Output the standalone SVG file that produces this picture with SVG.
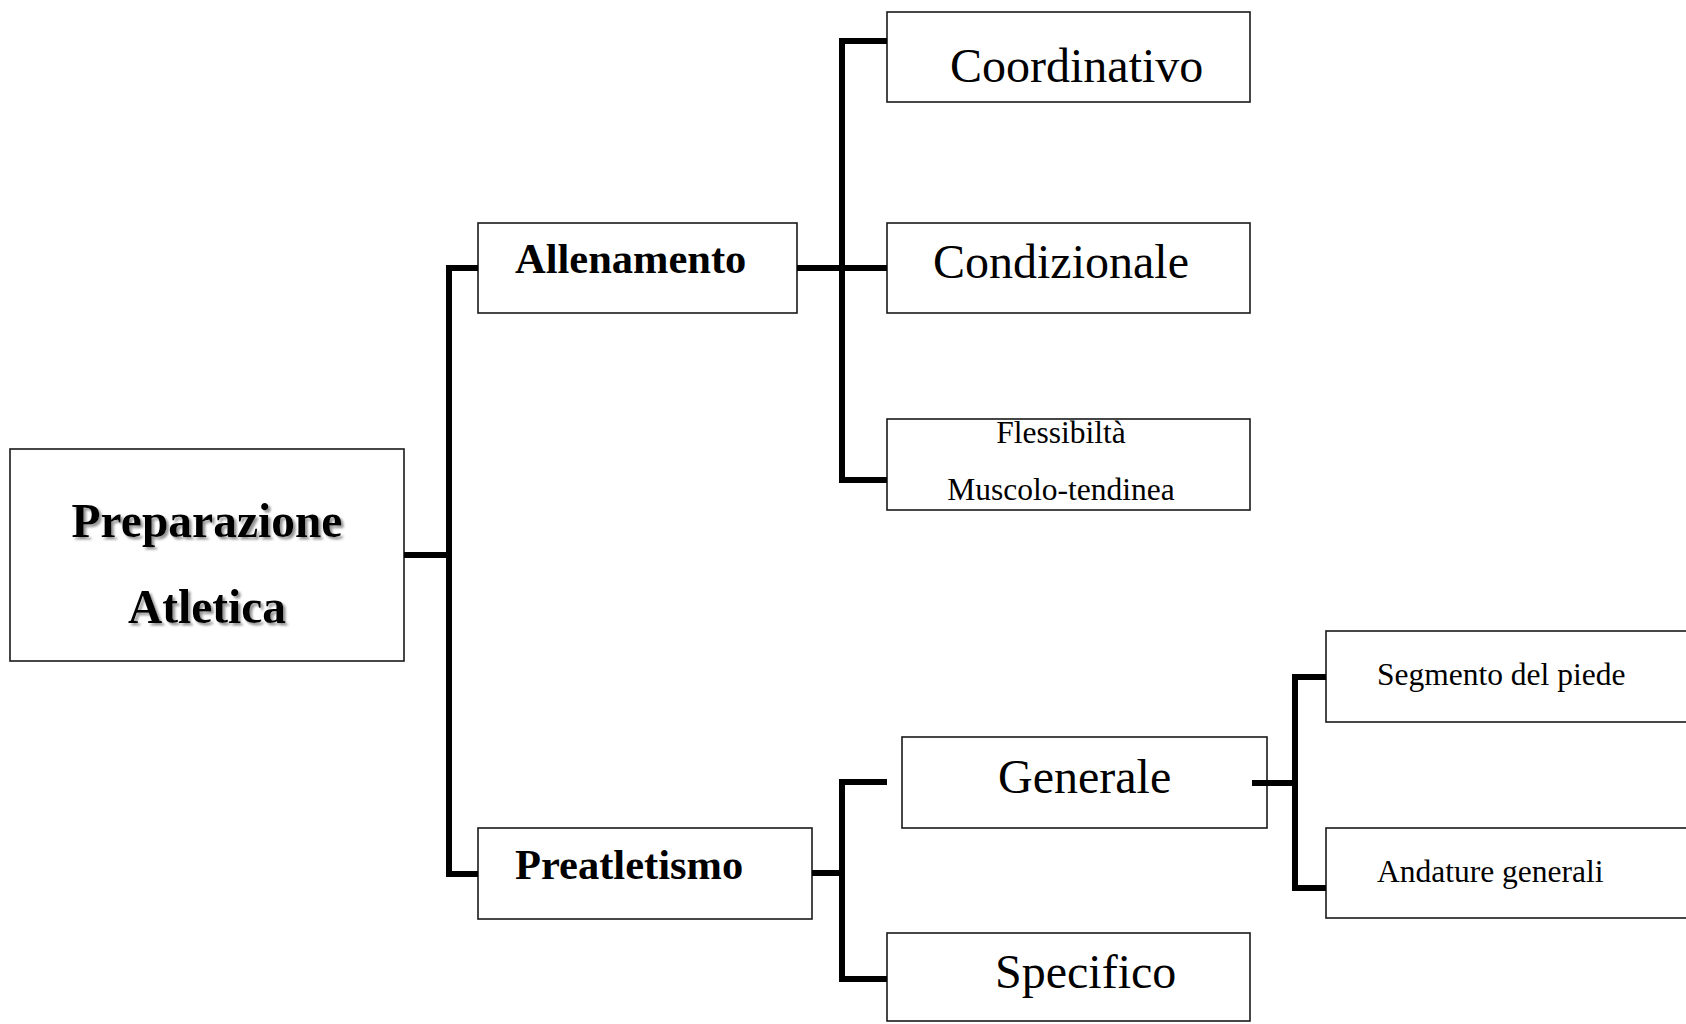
<svg xmlns="http://www.w3.org/2000/svg" width="1686" height="1024" viewBox="0 0 1686 1024">
<defs>
<filter id="shadow" x="-10%" y="-20%" width="120%" height="150%">
<feDropShadow dx="2.5" dy="2.5" stdDeviation="1" flood-color="#888" flood-opacity="0.9"/>
</filter>
</defs>
<style>
.box{fill:#fff;stroke:#1a1a1a;stroke-width:1.6}
.t{font-family:"Liberation Serif","Times New Roman",serif;fill:#000}
.b{font-weight:bold}
.conn{fill:none;stroke:#000;stroke-width:6;stroke-linejoin:miter}
</style>
<rect width="1686" height="1024" fill="#fff"/>
<g id="root">
<rect class="box" x="10" y="449" width="394" height="212"/>
<g filter="url(#shadow)">
<text class="t b" x="207" y="537" font-size="47.5" text-anchor="middle">Preparazione</text>
<text class="t b" x="207" y="623" font-size="47.5" text-anchor="middle">Atletica</text>
</g>
</g>
<g id="allenamento">
<rect class="box" x="478" y="223" width="319" height="90"/>
<text class="t b" x="515" y="273" font-size="42.5">Allenamento</text>
</g>
<g id="preatletismo">
<rect class="box" x="478" y="828" width="334" height="91"/>
<text class="t b" x="515" y="879" font-size="42.5">Preatletismo</text>
</g>
<g id="coordinativo">
<rect class="box" x="887" y="12" width="363" height="90"/>
<text class="t" x="950" y="82" font-size="48">Coordinativo</text>
</g>
<g id="condizionale">
<rect class="box" x="887" y="223" width="363" height="90"/>
<text class="t" x="933" y="278" font-size="48">Condizionale</text>
</g>
<g id="flessibilita">
<rect class="box" x="887" y="419" width="363" height="91"/>
<text class="t" x="1061" y="443" font-size="31.5" text-anchor="middle">Flessibiltà</text>
<text class="t" x="1061" y="500" font-size="31.5" text-anchor="middle">Muscolo-tendinea</text>
</g>
<g id="generale">
<rect class="box" x="902" y="737" width="365" height="91"/>
<text class="t" x="998" y="793" font-size="48">Generale</text>
</g>
<g id="specifico">
<rect class="box" x="887" y="933" width="363" height="88"/>
<text class="t" x="995" y="988" font-size="48">Specifico</text>
</g>
<g id="segmento">
<rect class="box" x="1326" y="631" width="380" height="91"/>
<text class="t" x="1377" y="685" font-size="31.5">Segmento del piede</text>
</g>
<g id="andature">
<rect class="box" x="1326" y="828" width="380" height="90"/>
<text class="t" x="1377" y="882" font-size="31.5">Andature generali</text>
</g>
<g id="connectors">
<path class="conn" d="M404,555 H449"/>
<path class="conn" d="M478,268 H449 V874 H478"/>
<path class="conn" d="M797,268 H887"/>
<path class="conn" d="M887,41 H842 V480 H887"/>
<path class="conn" d="M812,873 H842"/>
<path class="conn" d="M887,782 H842 V979 H887"/>
<path class="conn" d="M1252,783 H1295"/>
<path class="conn" d="M1326,677 H1295 V888 H1326"/>
</g>
</svg>
